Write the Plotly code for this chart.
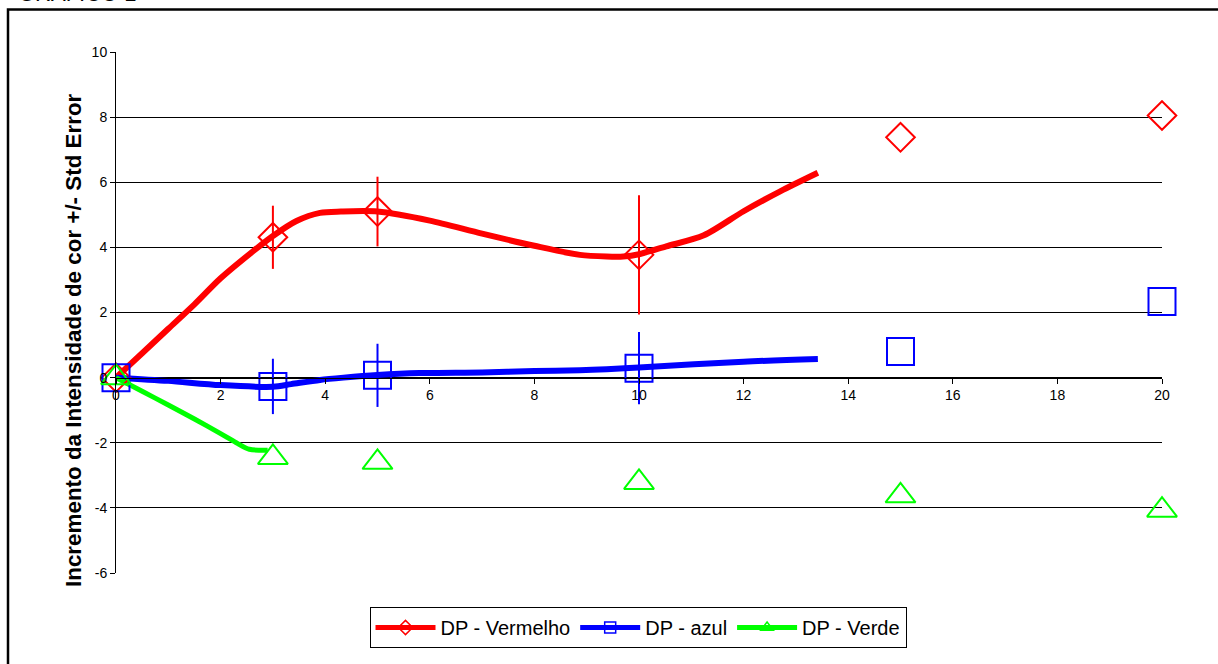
import plotly.graph_objects as go

# ---- data ----
times = [0, 3, 5, 10, 15, 20]
red_vals = [0, 4.31, 5.10, 3.77, 7.38, 8.05]
red_err = [0, 0.97, 1.07, 1.83, 0, 0]
blue_vals = [0, -0.27, 0.07, 0.29, 0.80, 2.34]
blue_err = [0, 0.85, 0.97, 1.11, 0, 0]
green_vals = [0, -2.45, -2.60, -3.22, -3.63, -4.07]

red_curve_x = [0, 0.5, 1, 1.5, 2, 2.62, 3, 3.45, 3.9, 4.3, 5, 6, 7, 8, 8.87, 9.38, 9.7, 10, 10.52, 11.24, 12, 12.7, 13.42]
red_curve_y = [0, 0.75, 1.5, 2.25, 3.05, 3.88, 4.35, 4.81, 5.06, 5.1, 5.1, 4.82, 4.42, 4.05, 3.77, 3.72, 3.72, 3.79, 4.03, 4.37, 5.11, 5.72, 6.29]
blue_curve_x = [0, 1, 2, 3, 3.35, 3.9, 4.35, 5, 5.8, 7, 8, 8.87, 9.38, 10, 12, 13.42]
blue_curve_y = [0, -0.1, -0.23, -0.28, -0.2, -0.07, 0.0, 0.08, 0.14, 0.16, 0.2, 0.23, 0.26, 0.31, 0.49, 0.57]
green_curve_x = [0, 0.5, 1, 1.5, 2, 2.3, 2.55, 2.9]
green_curve_y = [0, -0.42, -0.84, -1.27, -1.72, -2.0, -2.2, -2.23]

series_names = ["DP - Vermelho", "DP - azul", "DP - Verde"]
x_ticks = list(range(0, 21, 2))
y_ticks = list(range(-6, 11, 2))

RED, BLUE, GREEN = "#FF0000", "#0000FF", "#00FF00"
FONT = "Arial, Liberation Sans, sans-serif"

fig = go.Figure()

# smooth curves
for cx, cy, col, w in [(red_curve_x, red_curve_y, RED, 6),
                       (blue_curve_x, blue_curve_y, BLUE, 6),
                       (green_curve_x, green_curve_y, GREEN, 5)]:
    fig.add_trace(go.Scatter(x=cx, y=cy, mode="lines", showlegend=False,
                             line=dict(color=col, width=w, shape="spline", smoothing=0.8),
                             hoverinfo="skip"))

# markers with error bars
fig.add_trace(go.Scatter(x=times, y=red_vals, mode="markers", showlegend=False, cliponaxis=False,
                         marker=dict(symbol="diamond-open", size=22, color=RED, line=dict(color=RED, width=2)),
                         error_y=dict(type="data", array=red_err, width=0, thickness=2, color=RED)))
fig.add_trace(go.Scatter(x=times, y=blue_vals, mode="markers", showlegend=False, cliponaxis=False,
                         marker=dict(symbol="square-open", size=27, color=BLUE, line=dict(color=BLUE, width=2)),
                         error_y=dict(type="data", array=blue_err, width=0, thickness=2, color=BLUE)))
fig.add_trace(go.Scatter(x=times, y=green_vals, mode="markers", showlegend=False, cliponaxis=False,
                         marker=dict(symbol="triangle-up-open", size=26, color=GREEN, line=dict(color=GREEN, width=2))))

# legend entries
for name, col, sym in zip(series_names, [RED, BLUE, GREEN], ["diamond-open", "square-open", "triangle-up-open"]):
    fig.add_trace(go.Scatter(x=[None], y=[None], mode="lines+markers", name=name,
                             line=dict(color=col, width=5),
                             marker=dict(symbol=sym, size=11, color=col, line=dict(color=col, width=1.5))))

L, R, T, B = 116, 56, 52, 91
W, H = 1218, 664
pw, ph = W - L - R, H - T - B

def px_x(p):
    return (p - L) / pw

def px_y(p):
    return (H - B - p) / ph

fig.update_layout(
    width=W, height=H,
    margin=dict(l=L, r=R, t=T, b=B),
    paper_bgcolor="white", plot_bgcolor="white",
    font=dict(family=FONT, color="black"),
    showlegend=True,
    legend=dict(orientation="h", x=px_x(638), xanchor="center", y=px_y(607), yanchor="top",
                bordercolor="black", borderwidth=1, bgcolor="white",
                font=dict(size=20, family=FONT), itemwidth=60, tracegroupgap=0),
    xaxis=dict(range=[0, 20], tickvals=x_ticks, ticktext=[str(v) for v in x_ticks],
               anchor="free", position=0.375, showline=True, linecolor="black", linewidth=1,
               ticks="outside", ticklen=5, tickcolor="black", showgrid=False, zeroline=False,
               tickfont=dict(size=14, family=FONT)),
    yaxis=dict(range=[-6, 10], tickvals=y_ticks, ticktext=[str(v) for v in y_ticks],
               showline=True, linecolor="black", linewidth=1, ticks="outside", ticklen=5,
               tickcolor="black", showgrid=True, gridcolor="black", gridwidth=1, zeroline=False,
               tickfont=dict(size=14, family=FONT)),
)

fig.add_annotation(text="<b>Incremento da Intensidade de cor +/- Std Error</b>", textangle=-90,
                   xref="paper", yref="paper", x=px_x(73), y=px_y(340), xanchor="center", yanchor="middle",
                   showarrow=False, font=dict(size=22.4, family=FONT, color="black"))
fig.add_annotation(text="GRÁFICO 1", xref="paper", yref="paper", x=px_x(16), y=px_y(8),
                   xanchor="left", yanchor="bottom", showarrow=False,
                   font=dict(size=22, family=FONT, color="black"))

fig.add_shape(type="rect", xref="paper", yref="paper",
              x0=px_x(8), x1=px_x(1240), y0=px_y(9.5), y1=px_y(690),
              line=dict(color="black", width=2.5), fillcolor="rgba(0,0,0,0)", layer="below")

fig.write_html("out.html", config={"displayModeBar": False},
               post_script="document.body.style.margin='0';")
